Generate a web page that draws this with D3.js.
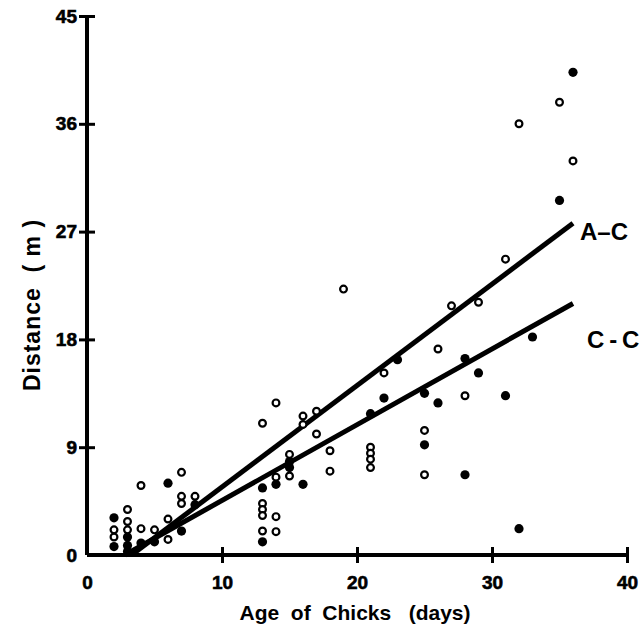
<!DOCTYPE html>
<html>
  <head>
    <title>Distance vs age of chicks</title>
    <style>
      body {
        margin: 0;
        background-color: #fff;
      }
      svg {
        font-family: "Liberation Sans", Arial, Helvetica, sans-serif;
      }
    </style>
  </head>
  <body>
    <svg id="canvas" width="643" height="634"></svg>
    <script src="https://d3js.org/d3.v7.min.js"></script>
    <script>
      // open circles
      var openAge = [2, 2, 3, 3, 3, 4, 4, 5, 6, 6, 7, 7, 7, 8, 13, 13, 13, 13, 13, 14, 14, 14, 14,
        15, 15, 16, 16, 17, 17, 18, 18, 19, 21, 21, 21, 21, 22, 25, 25, 26, 27, 28, 29, 31, 32, 35, 36];
      var openDist = [2.1, 1.5, 3.8, 2.8, 2.1, 5.8, 2.2, 2.1, 3.0, 1.3, 6.9, 4.9, 4.3, 4.9, 11.0, 4.3, 3.8, 3.3, 2.0,
        12.7, 6.5, 3.2, 1.95, 8.4, 6.6, 11.6, 10.9, 12.0, 10.1, 8.7, 7.0, 22.2, 9.0, 8.5, 8.0, 7.3, 15.2,
        10.4, 6.7, 17.2, 20.8, 13.3, 21.1, 24.7, 36.0, 37.8, 32.9];

      // filled circles
      var filledAge = [2, 2, 3, 3, 3, 4, 5, 6, 7, 8, 13, 13, 14, 15, 15, 16, 21, 22, 23, 25, 25, 26,
        28, 28, 29, 31, 32, 33, 35, 36];
      var filledDist = [3.1, 0.7, 1.5, 0.8, 0.3, 1.0, 1.1, 6.0, 2.0, 4.2, 5.6, 1.1, 5.9, 7.8, 7.3, 5.9,
        11.8, 13.1, 16.3, 13.5, 9.2, 12.7, 16.4, 6.7, 15.2, 13.3, 2.2, 18.2, 29.6, 40.3];

      // regression lines: start and end
      var lineNames = ["A\u2013C", "C\u2009-\u2009C"];
      var lineAge = [[3.3, 36], [2.8, 36]];
      var lineDist = [[0, 27.7], [0, 21.0]];

      var xTicks = [0, 10, 20, 30, 40];
      var yTicks = [0, 9, 18, 27, 36, 45];

      // label offsets from the line ends
      var labelDx = [7, 14];
      var labelDy = [17, 45];

      var svg = d3.select("#canvas");
      var x = d3.scaleLinear().domain([0, 40]).range([87, 627]);
      var y = d3.scaleLinear().domain([0, 45]).range([555, 16]);

      // axes
      var xAxis = svg.append("g")
        .attr("transform", "translate(0," + y(0) + ")")
        .call(d3.axisBottom(x).tickValues(xTicks).tickSize(8).tickSizeOuter(0).tickPadding(13));
      var yAxis = svg.append("g")
        .attr("transform", "translate(" + x(0) + ",0)")
        .call(d3.axisLeft(y).tickValues(yTicks).tickSize(8).tickSizeOuter(0).tickPadding(2));

      [xAxis, yAxis].forEach(function (g) {
        g.attr("font-family", null).attr("font-size", null);
        g.select(".domain").attr("stroke", "#000").attr("stroke-width", 4);
        g.selectAll(".tick line").attr("stroke", "#000").attr("stroke-width", 3);
        g.selectAll(".tick text")
          .attr("fill", "#000")
          .attr("stroke", "#000")
          .attr("stroke-width", 0.6)
          .style("font-size", "19px")
          .style("font-weight", "bold");
      });
      // ticks cross the axis line
      xAxis.selectAll(".tick line").attr("y1", -8).attr("y2", 8);
      yAxis.selectAll(".tick line").attr("x1", -8).attr("x2", 8);
      xAxis.selectAll(".tick").filter(function (d) { return d === 0; }).select("line").remove();
      yAxis.selectAll(".tick").filter(function (d) { return d === 0; }).select("line").remove();
      xAxis.select(".domain").attr("d", "M" + x(0) + ",0H" + x(40));
      yAxis.select(".domain").attr("d", "M0," + y(0) + "V" + y(45));

      // axis titles
      svg.append("text")
        .attr("x", 355)
        .attr("y", 620)
        .attr("text-anchor", "middle")
        .attr("font-size", 21)
        .attr("font-weight", "bold")
        .style("white-space", "pre")
        .text("Age  of  Chicks   (days)");

      svg.append("text")
        .attr("transform", "translate(40,305) rotate(-90)")
        .attr("text-anchor", "middle")
        .attr("font-size", 23)
        .attr("font-weight", "bold")
        .attr("letter-spacing", 1)
        .style("white-space", "pre")
        .text("Distance  ( m )");

      // regression lines
      var lineGen = d3.line()
        .x(function (d) { return x(d[0]); })
        .y(function (d) { return y(d[1]); });

      lineNames.forEach(function (name, i) {
        var pts = lineAge[i].map(function (a, j) { return [a, lineDist[i][j]]; });
        svg.append("path")
          .attr("d", lineGen(pts))
          .attr("stroke", "#000")
          .attr("stroke-width", 5)
          .attr("fill", "none");
        svg.append("text")
          .attr("x", x(pts[1][0]) + labelDx[i])
          .attr("y", y(pts[1][1]) + labelDy[i])
          .attr("font-size", 24)
          .attr("font-weight", "bold")
          .style("white-space", "pre")
          .text(name);
      });

      // points
      svg.append("g").selectAll("circle")
        .data(openAge)
        .join("circle")
        .attr("cx", function (d) { return x(d); })
        .attr("cy", function (d, i) { return y(openDist[i]); })
        .attr("r", 3.4)
        .attr("fill", "#fff")
        .attr("stroke", "#000")
        .attr("stroke-width", 2.2);

      svg.append("g").selectAll("circle")
        .data(filledAge)
        .join("circle")
        .attr("cx", function (d) { return x(d); })
        .attr("cy", function (d, i) { return y(filledDist[i]); })
        .attr("r", 4.6)
        .attr("fill", "#000");
    </script>
  </body>
</html>
